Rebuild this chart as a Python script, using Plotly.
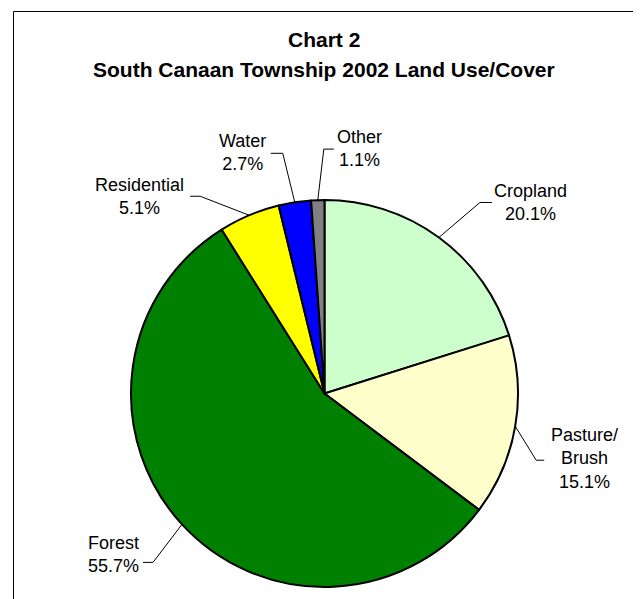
import math
import plotly.graph_objects as go

# ---- data ----
categories = ["Cropland", "Pasture/<br>Brush", "Forest", "Residential", "Water", "Other"]
values = [20.1, 15.1, 55.7, 5.1, 2.7, 1.1]
colors = ["#CCFFCC", "#FFFFCC", "#008000", "#FFFF00", "#0000FF", "#808080"]
title_lines = ["Chart 2", "South Canaan Township 2002 Land Use/Cover"]

# ---- layout / style constants (pixels, in window coordinates) ----
OFF = 8  # page body margin
W, H = 641 - OFF, 599 - OFF
CX, CY, R = 324.5, 393.5, 193.5
# label text offset, leader elbow offset and leader end offset, relative to slice mid point on the rim
label_style = [
    dict(text=(92, -34.5), elbow=(41, -35), end=(53, -35)),
    dict(text=(69, 32), elbow=(21, 34), end=(29, 34)),
    dict(text=(-68.5, 30.5), elbow=(-29, 38), end=(-39, 38)),
    dict(text=(-109.5, -19), elbow=(-49, -19), end=(-59, -19)),
    dict(text=(-52, -49.5), elbow=(-12, -49), end=(-24, -49)),
    dict(text=(42, -51.5), elbow=(6, -51), end=(16, -51)),
]

def px(x):
    return (x - OFF) / W

def py(y):
    return 1 - (y - OFF) / H

fig = go.Figure(go.Pie(
    labels=categories,
    values=values,
    sort=False,
    direction="clockwise",
    rotation=0,
    marker=dict(colors=colors, line=dict(color="black", width=2)),
    textinfo="none",
    hoverinfo="label+percent",
    domain=dict(x=[px(CX - R), px(CX + R)], y=[py(CY + R), py(CY - R)]),
    showlegend=False,
))

total = sum(values)
cum = 0.0
annotations = []
shapes = []
for cat, v, st in zip(categories, values, label_style):
    mid = (cum + v / 2) / total
    cum += v
    th = 2 * math.pi * mid
    ex = CX + R * math.sin(th)
    ey = CY - R * math.cos(th)
    tx, ty = ex + st["text"][0], ey + st["text"][1]
    pct = f"{v:.1f}%"
    annotations.append(dict(
        x=px(tx), y=py(ty), xref="paper", yref="paper",
        text=f"{cat}<br>{pct}", showarrow=False,
        xanchor="center", yanchor="middle", align="center",
        font=dict(family="Liberation Sans, Arial, sans-serif", size=18, color="black"),
    ))
    bx, by = ex + st["elbow"][0], ey + st["elbow"][1]
    nx, ny = ex + st["end"][0], ey + st["end"][1]
    shapes.append(dict(
        type="path", xref="paper", yref="paper",
        path=f"M {px(ex)},{py(ey)} L {px(bx)},{py(by)} L {px(nx)},{py(ny)}",
        line=dict(color="black", width=1),
    ))

# titles
for line, yy in zip(title_lines, [40, 69]):
    annotations.append(dict(
        x=px(324), y=py(yy), xref="paper", yref="paper",
        text=f"<b>{line}</b>", showarrow=False,
        xanchor="center", yanchor="middle",
        font=dict(family="Liberation Sans, Arial, sans-serif", size=21, color="black"),
    ))

# chart-area border
shapes.append(dict(
    type="rect", xref="paper", yref="paper",
    x0=px(13.5), x1=px(638.5), y0=py(11.5), y1=-0.05,
    line=dict(color="black", width=1), fillcolor="rgba(0,0,0,0)", layer="below",
))

fig.update_layout(
    width=W, height=H,
    margin=dict(l=0, r=0, t=0, b=0),
    paper_bgcolor="white", plot_bgcolor="white",
    annotations=annotations, shapes=shapes,
)

fig.write_html("out.html")
